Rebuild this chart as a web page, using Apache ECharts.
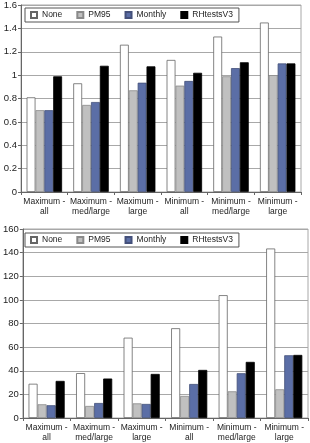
<!DOCTYPE html>
<html>
<head>
<meta charset="utf-8">
<script src="https://cdn.jsdelivr.net/npm/echarts@6/dist/echarts.min.js"></script>
<style>
  html, body { margin: 0; padding: 0; background: #fff; }
  #chart { width: 310px; height: 443px; }
</style>
</head>
<body>
<div id="chart"></div>
<script>
// categories shared by both panels
var categories = ["Maximum -\nall", "Maximum -\nmed/large", "Maximum -\nlarge",
                  "Minimum -\nall", "Minimum -\nmed/large", "Minimum -\nlarge"];
var seriesNames = ["None", "PM95", "Monthly", "RHtestsV3"];

// top panel (ratio)
var topNone    = [0.81, 0.93, 1.26, 1.13, 1.33, 1.45];
var topPM95    = [0.70, 0.745, 0.87, 0.91, 0.99, 1.00];
var topMonthly = [0.70, 0.77, 0.935, 0.95, 1.06, 1.10];
var topRH      = [0.99, 1.08, 1.075, 1.02, 1.11, 1.10];

// bottom panel (count)
var botNone    = [29, 38, 68, 76, 104, 143.5];
var botPM95    = [11.6, 10.2, 12.4, 18.7, 22.6, 24.3];
var botMonthly = [10.8, 12.7, 11.9, 28.8, 37.9, 53.1];
var botRH      = [31.4, 33.4, 37.3, 40.7, 47.5, 53.4];

var fills   = ["#ffffff", "#c0c0c0", "#5b6ea6", "#000000"];
var borders = ["#666666", "#8a8a8a", "#44507a", "#000000"];

var font = "Liberation Sans";

function makeSeries(idx, lists) {
  var out = [];
  for (var i = 0; i < lists.length; i++) {
    out.push({
      name: seriesNames[i],
      type: "bar",
      xAxisIndex: idx,
      yAxisIndex: idx,
      data: lists[i],
      barGap: "0%",
      barCategoryGap: "24%",
      itemStyle: { color: fills[i], borderColor: borders[i], borderWidth: 0.8 },
      emphasis: { disabled: true }
    });
  }
  return out;
}

function makeLegend(top) {
  return {
    data: seriesNames,
    left: 25,
    top: top,
    padding: [2, 6, 2, 5],
    itemGap: 14,
    itemWidth: 6,
    itemHeight: 6,
    icon: "rect",
    borderColor: "#555",
    borderWidth: 1,
    selectedMode: false,
    textStyle: { fontFamily: font, fontSize: 8.5, color: "#222", lineHeight: 10 }
  };
}

function makeXAxis(idx) {
  return {
    type: "category",
    gridIndex: idx,
    data: categories,
    axisLine: { lineStyle: { color: "#666", width: 1 } },
    axisTick: { show: true, length: 3, interval: 0, lineStyle: { color: "#666" } },
    axisLabel: { interval: 0, fontFamily: font, fontSize: 8.5, color: "#222", margin: 5, lineHeight: 9.5 },
    splitLine: { show: false }
  };
}

function makeYAxis(idx, max, step) {
  return {
    type: "value",
    gridIndex: idx,
    min: 0,
    max: max,
    interval: step,
    axisLine: { show: true, lineStyle: { color: "#666", width: 1 } },
    axisTick: { show: true, length: 3, lineStyle: { color: "#666" } },
    axisLabel: { fontFamily: font, fontSize: 9.5, color: "#222", margin: 4 },
    splitLine: { show: true, lineStyle: { color: "#a8a8a8", width: 1 } }
  };
}

var chart = echarts.init(document.getElementById("chart"));
chart.setOption({
  animation: false,
  backgroundColor: "#fff",
  legend: [makeLegend(8), makeLegend(233)],
  grid: [
    { left: 21, top: 4, width: 280, height: 188, show: true, borderColor: "#a8a8a8", borderWidth: 1 },
    { left: 20, top: 229, width: 288, height: 189, show: true, borderColor: "#a8a8a8", borderWidth: 1 }
  ],
  xAxis: [makeXAxis(0), makeXAxis(1)],
  yAxis: [makeYAxis(0, 1.6, 0.2), makeYAxis(1, 160, 20)],
  series: makeSeries(0, [topNone, topPM95, topMonthly, topRH])
    .concat(makeSeries(1, [botNone, botPM95, botMonthly, botRH]))
});
</script>
</body>
</html>
